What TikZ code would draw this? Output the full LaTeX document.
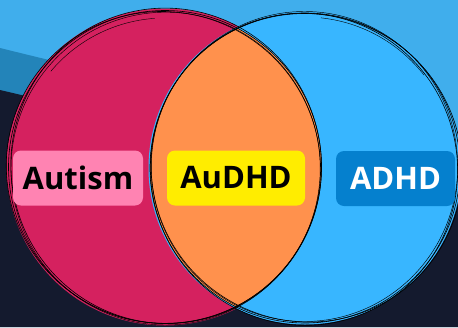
\documentclass[tikz,border=0pt]{standalone}
\usepackage{fontspec}
\setmainfont{Open Sans}
\usetikzlibrary{calc}
\definecolor{skyA}{HTML}{40AEEC}
\definecolor{bandB}{HTML}{2384B9}
\definecolor{navyC}{HTML}{141A2E}
\definecolor{pinkD}{HTML}{D5215F}
\definecolor{orangeE}{HTML}{FF914D}
\definecolor{blueF}{HTML}{38B6FF}
\definecolor{pinkLab}{HTML}{FF83B2}
\definecolor{yelLab}{HTML}{FFED00}
\definecolor{blueLab}{HTML}{0580CE}
\tikzset{
  sketch/.style={draw=black, line width=0.6pt},
  labelbox/.style={rounded corners=8pt, minimum height=55pt, inner sep=0pt,
    font=\fontsize{31}{31}\selectfont\bfseries}
}
\begin{document}
\begin{tikzpicture}[x=1pt,y=-1pt]
\useasboundingbox (0,0) rectangle (458,327);
% background
\fill[skyA] (0,0) rectangle (458,327);
\fill[bandB] (0,48) .. controls (150,85) and (300,120) .. (458,150) -- (458,327) -- (0,327) -- cycle;
\fill[navyC] (0,90) .. controls (150,125) and (300,165) .. (458,197) -- (458,327) -- (0,327) -- cycle;
% circles
\coordinate (cl) at (165,167);
\coordinate (cr) at (305,168);
\fill[pinkD] (cl) circle (158.5);
\fill[blueF] (cr) circle (156.5);
\begin{scope}
  \clip (cl) circle (156.5);
  \fill[orangeE] (cr) circle (155);
\end{scope}
% sketchy outlines left
\draw[sketch] (cl) circle (156.5);
\draw[sketch, rotate around={12:(cl)}] ($(cl)+(1.4,-0.9)$) ellipse (155.2 and 157.8);
\draw[sketch, rotate around={-28:(cl)}] ($(cl)+(-1.2,1.1)$) ellipse (157.6 and 155.4);
\draw[sketch, line width=0.45pt] ($(cl)+(0.6,1.6)$) ellipse (154.6 and 156.4);
% sketchy outlines right
\draw[sketch] (cr) circle (155);
\draw[sketch, rotate around={15:(cr)}] ($(cr)+(-1.3,1.0)$) ellipse (153.4 and 156.2);
\draw[sketch, rotate around={-30:(cr)}] ($(cr)+(1.3,-1.0)$) ellipse (156.2 and 153.6);
\draw[sketch, line width=0.45pt] ($(cr)+(-0.5,-1.5)$) ellipse (153.2 and 155.0);
% inner sketch strokes
\draw[sketch, line width=0.4pt] (cl) ++(-140:149) arc (-140:-94:149);
\draw[sketch, line width=0.4pt] (cr) ++(-84:151) arc (-84:-38:151);
% labels
\node[labelbox, fill=pinkLab, text=black, minimum width=130pt] (autism) at (78,178) {Autism};
\node[labelbox, fill=yelLab, text=black, minimum width=138pt] (audhd) at (236,178) {AuDHD};
\node[labelbox, fill=blueLab, text=white, minimum width=119pt] (adhd) at (395.5,178.5) {ADHD};
\end{tikzpicture}
\end{document}
